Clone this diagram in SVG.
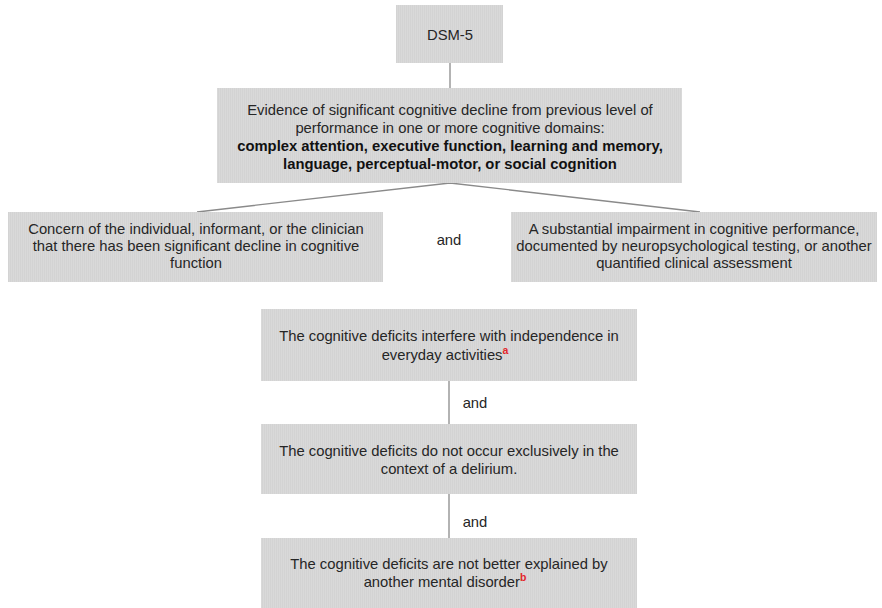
<svg xmlns="http://www.w3.org/2000/svg" width="882" height="608" viewBox="0 0 882 608">
  <defs>
    <!-- fine vertical grain of the box fill -->
    <pattern id="grain" width="2" height="4" patternUnits="userSpaceOnUse">
      <rect width="2" height="4" fill="#d9d9d9"/>
      <rect width="1" height="4" fill="#d3d3d3"/>
    </pattern>
  </defs>
  <style>
    .box { fill: url(#grain); }
    .t { font-family: "Liberation Sans", Arial, sans-serif; font-size: 14.8px; fill: #262626; text-anchor: middle; }
    .b { font-weight: bold; fill: #111; }
    .sup { font-family: "Liberation Sans", Arial, sans-serif; font-size: 10.5px; font-weight: bold; fill: #e3262b; }
    .link { stroke: #8a8a8a; stroke-width: 1.3; fill: none; }
  </style>
  <rect width="882" height="608" fill="#ffffff"/>

  <g id="connectors">
    <line class="link" x1="450" y1="63" x2="450" y2="88"/>
    <polyline class="link" points="197,212 450,183 700,212"/>
    <line class="link" x1="449" y1="381" x2="449" y2="424"/>
    <line class="link" x1="449" y1="494" x2="449" y2="538"/>
    <text class="t" x="449" y="245">and</text>
    <text class="t" x="475" y="408">and</text>
    <text class="t" x="475" y="527">and</text>
  </g>

  <g id="dsm5">
    <rect class="box" x="396" y="5" width="107" height="58"/>
    <text class="t" x="450" y="40">DSM-5</text>
  </g>

  <g id="evidence">
    <rect class="box" x="217" y="88" width="465" height="95"/>
    <text class="t" x="450" y="115">Evidence of significant cognitive decline from previous level of</text>
    <text class="t" x="450" y="133">performance in one or more cognitive domains:</text>
    <text class="t b" x="450" y="151">complex attention, executive function, learning and memory,</text>
    <text class="t b" x="450" y="169">language, perceptual-motor, or social cognition</text>
  </g>

  <g id="concern">
    <rect class="box" x="8" y="212" width="375" height="70"/>
    <text class="t" x="196" y="234">Concern of the individual, informant, or the clinician</text>
    <text class="t" x="196" y="251">that there has been significant decline in cognitive</text>
    <text class="t" x="196" y="268">function</text>
  </g>

  <g id="impairment">
    <rect class="box" x="511" y="212" width="366" height="70"/>
    <text class="t" x="694" y="234">A substantial impairment in cognitive performance,</text>
    <text class="t" x="694" y="251">documented by neuropsychological testing, or another</text>
    <text class="t" x="694" y="268">quantified clinical assessment</text>
  </g>

  <g id="independence">
    <rect class="box" x="261" y="309" width="376" height="72"/>
    <text class="t" x="449" y="341">The cognitive deficits interfere with independence in</text>
    <text class="t" x="445" y="360">everyday activities<tspan class="sup" dy="-6">a</tspan></text>
  </g>

  <g id="delirium">
    <rect class="box" x="261" y="424" width="376" height="70"/>
    <text class="t" x="449" y="456">The cognitive deficits do not occur exclusively in the</text>
    <text class="t" x="449" y="474">context of a delirium.</text>
  </g>

  <g id="mental-disorder">
    <rect class="box" x="261" y="538" width="376" height="70"/>
    <text class="t" x="449" y="569">The cognitive deficits are not better explained by</text>
    <text class="t" x="445" y="587">another mental disorder<tspan class="sup" dy="-6">b</tspan></text>
  </g>
</svg>
